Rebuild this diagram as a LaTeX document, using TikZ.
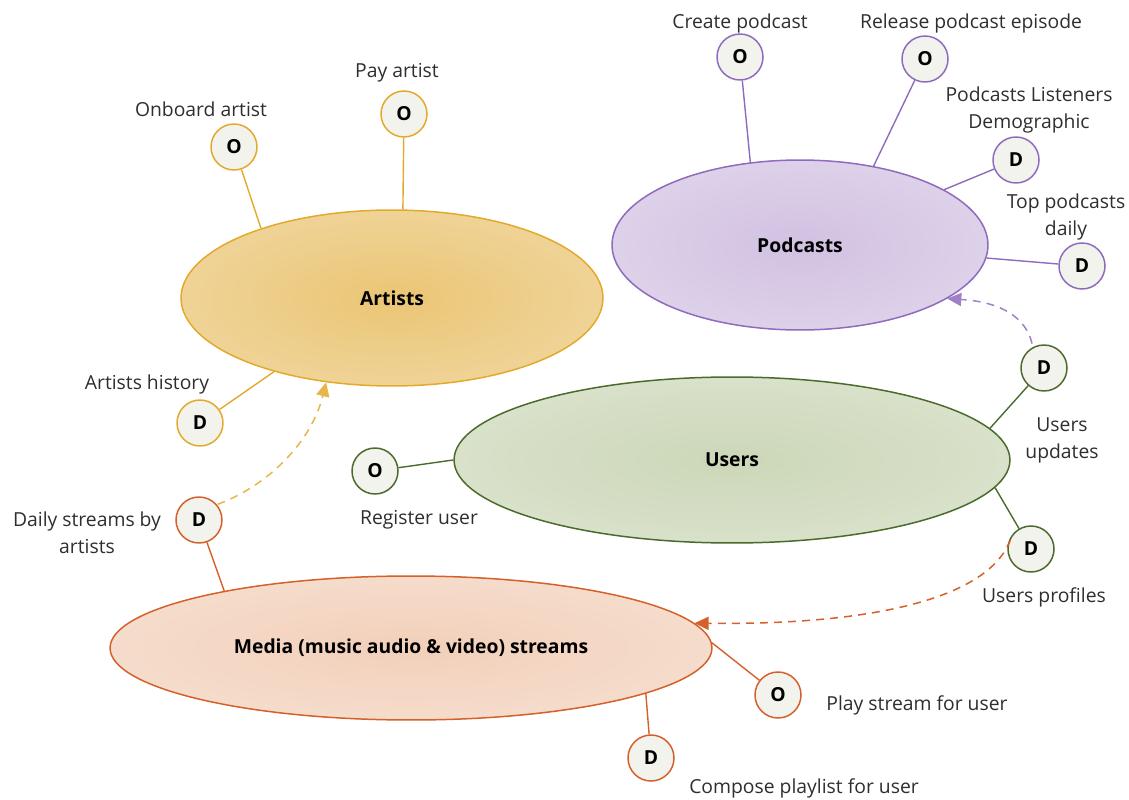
\documentclass[tikz,border=0pt]{standalone}
\usepackage{fontspec}
\setmainfont{Open Sans}
\usetikzlibrary{arrows.meta,%
                shapes.geometric,%
                calc
              }
\definecolor{artc}{HTML}{E3A92B}
\definecolor{artfill}{HTML}{EAC574}
\definecolor{podc}{HTML}{8F6BBF}
\definecolor{podfill}{HTML}{D2C1E2}
\definecolor{usec}{HTML}{4B6B2C}
\definecolor{usefill}{HTML}{CCD7B8}
\definecolor{medc}{HTML}{D5602A}
\definecolor{medfill}{HTML}{F2D0BA}
\definecolor{markfill}{HTML}{F3F3EE}
\definecolor{inktext}{HTML}{2E2E2E}
% x/y/letter/colour/name
\def\setofmarkers{234/147/O/artc/onboard, 404/114/O/artc/pay,
  200/423/D/artc/history,
  740/57/O/podc/create, 925/59/O/podc/release,
  1016/160/D/podc/demog, 1082/266/D/podc/toppod,
  375/471/O/usec/register, 1044/368/D/usec/updates,
  1031/549/D/usec/profiles,
  199/520/D/medc/daily, 778/695/O/medc/play, 651/758/D/medc/compose}
% from/to/colour
\def\setofspokes{onboard/artists.152/artc, pay/artists.83/artc,
  history/artists.212/artc,
  create/pod.121/podc, release/pod.47/podc,
  pod.21/demog/podc, pod.-4/toppod/podc,
  register/users.180/usec, updates/users.7/usec, profiles/users.-6/usec,
  daily/media.163/medc, play/media.1/medc, compose/media.-11/medc}
% x/y/name/text
\def\setoflabels{201/109/lonboard/Onboard artist,
  397/73/lpay/Pay artist,
  147/384/lhistory/Artists history,
  740/23/lcreate/Create podcast,
  971/23/lrelease/Release podcast episode,
  1029/110/ldemog/Podcasts Listeners\\Demographic,
  1066/217/ltoppod/Top podcasts\\daily,
  419/520/lregister/Register user,
  1062/440/lupdates/Users\\updates,
  1044/597/lprofiles/Users profiles,
  87/533/ldaily/Daily streams by\\artists,
  917/705/lplay/Play stream for user,
  804/788/lcompose/Compose playlist for user}

\begin{document}
\begin{tikzpicture}[x=0.02cm,y=-0.02cm,
    every node/.style={font=\fontsize{11}{15.3}\selectfont},
    domain/.style 2 args={ellipse, draw=#1, line width=0.85pt,
      inner sep=0pt, shading=radial, inner color=#2,
      outer color=#2!75!white,
      font=\fontsize{11}{15}\selectfont\bfseries, text=black},
    marker/.style={circle, draw=#1, fill=markfill, line width=0.85pt,
      minimum size=0.92cm, inner sep=0pt,
      font=\fontsize{11}{12}\selectfont\bfseries},
    spoke/.style={draw=#1, line width=0.8pt},
    flow/.style={draw=#1, line width=0.85pt, dash pattern=on 4.5pt off 3.5pt,
      -{Triangle[length=8pt,width=7.5pt,fill=#1]}}
  ]
  \useasboundingbox (0,0) rectangle (1129,800);

  %% DOMAINS
  \node[domain={artc}{artfill}, minimum width=8.44cm, minimum height=3.52cm]
    (artists) at (392,298) {Artists};
  \node[domain={podc}{podfill}, minimum width=7.52cm, minimum height=3.4cm]
    (pod) at (800,245) {Podcasts};
  \node[domain={usec}{usefill}, minimum width=11.12cm, minimum height=3.32cm]
    (users) at (732,460) {Users};
  \node[domain={medc}{medfill}, minimum width=12.04cm, minimum height=2.88cm]
    (media) at (411,648) {Media (music audio \& video) streams};

  %% O / D MARKERS
  \foreach \x/\y/\l/\c/\n in \setofmarkers {%
    \node[marker=\c] (\n) at (\x,\y) {\l};
  }

  %% SPOKES
  \foreach \a/\b/\c in \setofspokes {%
    \draw[spoke=\c] (\a) -- (\b);
  }

  %% LABELS
  \foreach \x/\y/\n/\t in \setoflabels {%
    \node[align=center, text=inktext] (\n) at (\x,\y) {\t};
  }

  %% DATA FLOWS
  \draw[flow=artc!85] (daily.40) ++(0.3,-0.4) coordinate (yflow)
    (yflow) .. controls (270,485) and (312,440) .. (artists.232);
  \draw[flow=podc!85, shorten <=2pt] (updates.118)
    .. controls (1026,318) and (1002,302) .. (pod.-20);
  \draw[flow=medc, shorten <=4pt] (profiles.140)
    .. controls (985,605) and (850,625) .. (media.5);
\end{tikzpicture}
\end{document}
